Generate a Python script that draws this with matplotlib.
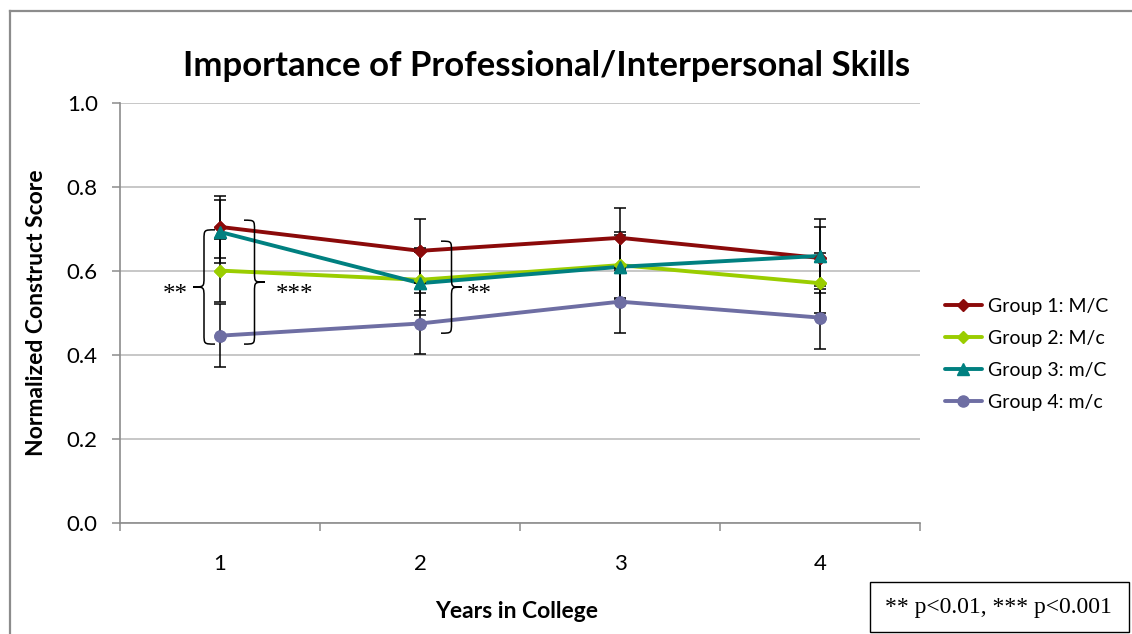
import matplotlib
matplotlib.use("Agg")
import matplotlib.pyplot as plt
from matplotlib.path import Path
from matplotlib.patches import PathPatch, Rectangle
from matplotlib.lines import Line2D

# ---- data -------------------------------------------------------------
years = [1, 2, 3, 4]
year_labels = ["1", "2", "3", "4"]
group_names = ["Group 1: M/C", "Group 2: M/c", "Group 3: m/C", "Group 4: m/c"]

g1_mean = [0.705, 0.648, 0.679, 0.631]
g2_mean = [0.601, 0.579, 0.614, 0.571]
g3_mean = [0.693, 0.571, 0.610, 0.636]
g4_mean = [0.446, 0.475, 0.527, 0.489]

g1_err = [0.074, 0.076, 0.072, 0.074]
g2_err = [0.075, 0.075, 0.080, 0.072]
g3_err = [0.075, 0.075, 0.075, 0.088]
g4_err = [0.075, 0.073, 0.075, 0.075]

y_ticks = [0.0, 0.2, 0.4, 0.6, 0.8, 1.0]
y_tick_labels = ["0.0", "0.2", "0.4", "0.6", "0.8", "1.0"]

# ---- styles -----------------------------------------------------------
SANS = ["Lato", "DejaVu Sans"]
SERIF = ["Liberation Serif", "DejaVu Serif"]
colors = ["#8B0A0A", "#9ACD00", "#008080", "#6E6EA3"]
markers = ["D", "D", "^", "o"]
msizes = [6.5, 6.5, 8, 8]
AXIS_GRAY = "#8C8C8C"
GRID_GRAY = "#BEBEBE"

W, H = 1132, 634
fig = plt.figure(figsize=(W / 100, H / 100), dpi=100)
fig.patch.set_facecolor("white")

# axes placed by pixel edges of the plot area
x0, x1, ytop, ybot = 120, 920, 103, 523
ax = fig.add_axes([x0 / W, 1 - ybot / H, (x1 - x0) / W, (ybot - ytop) / H])

means = [g1_mean, g2_mean, g3_mean, g4_mean]
errs = [g1_err, g2_err, g3_err, g4_err]

for m, c, mk, ms, name in zip(means, colors, markers, msizes, group_names):
    ax.plot(years, m, color=c, lw=2.8, marker=mk, ms=ms, mec=c, mfc=c,
            label=name, zorder=3, solid_capstyle="round")
for m, e in zip(means, errs):
    ax.errorbar(years, m, yerr=e, fmt="none", ecolor="black", elinewidth=1.1,
                capsize=4.5, capthick=1.1, zorder=4)
for m, c, mk, ms in zip(means, colors, markers, msizes):
    ax.plot(years, m, ls="none", marker=mk, ms=ms, mec=c, mfc=c, zorder=5)

ax.set_xlim(0.5, 4.5)
ax.set_ylim(0, 1.0)
ax.set_yticks(y_ticks)
ax.set_yticklabels(y_tick_labels, fontfamily=SANS, fontsize=16)
ax.set_xticks(years)
ax.set_xticklabels(year_labels, fontfamily=SANS, fontsize=16)
ax.set_xticks([0.5, 1.5, 2.5, 3.5, 4.5], minor=True)
ax.tick_params(axis="x", which="major", length=0, pad=22)
ax.tick_params(axis="x", which="minor", length=6, width=1.1, color=AXIS_GRAY, direction="out")
ax.tick_params(axis="y", length=6, width=1.1, color=AXIS_GRAY, direction="out", pad=10)

ax.grid(axis="y", color=GRID_GRAY, lw=1.2, zorder=0)
ax.set_axisbelow(True)
for s in ["top", "right"]:
    ax.spines[s].set_visible(False)
for s in ["left", "bottom"]:
    ax.spines[s].set_color(AXIS_GRAY)
    ax.spines[s].set_linewidth(1.2)

ax.set_ylabel("Normalized Construct Score", fontfamily=SANS, fontweight="bold",
              fontsize=16.5, va="center")
ax.yaxis.set_label_coords((37 - x0) / (x1 - x0), 0.5)
ax.set_xlabel("Years in College", fontfamily=SANS, fontweight="bold",
              fontsize=16.5, va="center")
ax.xaxis.set_label_coords((517 - x0) / (x1 - x0), -(612 - ybot) / (ybot - ytop))

fig.text(546.5 / W, 1 - 76 / H, "Importance of Professional/Interpersonal Skills",
         fontfamily=SANS, fontweight="bold", fontsize=25, ha="center", va="baseline")


def brace(ax, x_tip, x_back, y_top, y_bot, r=0.024):
    """Curly brace whose point is at x_tip, arms ending at x_back."""
    ym = (y_top + y_bot) / 2
    xm = (x_tip + x_back) / 2
    verts = [
        (x_back, y_top), (xm, y_top), (xm, y_top), (xm, y_top - r),
        (xm, ym + r),
        (xm, ym), (xm, ym), (x_tip, ym),
        (xm, ym), (xm, ym), (xm, ym - r),
        (xm, y_bot + r),
        (xm, y_bot), (xm, y_bot), (x_back, y_bot),
    ]
    codes = [Path.MOVETO, Path.CURVE4, Path.CURVE4, Path.CURVE4,
             Path.LINETO,
             Path.CURVE4, Path.CURVE4, Path.CURVE4,
             Path.CURVE4, Path.CURVE4, Path.CURVE4,
             Path.LINETO,
             Path.CURVE4, Path.CURVE4, Path.CURVE4]
    ax.add_patch(PathPatch(Path(verts, codes), fill=False, ec="black", lw=1.1,
                           zorder=6, clip_on=False))


# significance braces: year 1 (group 3 vs 4, group 1 vs 4) and year 2 (group 1 vs 4)
brace(ax, 0.865, 0.975, 0.698, 0.426)
ax.text(0.775, 0.543, "**", fontfamily=SERIF, fontsize=18, ha="center", va="center")
brace(ax, 1.225, 1.12, 0.721, 0.426)
ax.text(1.375, 0.543, "***", fontfamily=SERIF, fontsize=18, ha="center", va="center")
brace(ax, 2.21, 2.105, 0.671, 0.452)
ax.text(2.295, 0.543, "**", fontfamily=SERIF, fontsize=18, ha="center", va="center")

leg = fig.legend(loc="center left", bbox_to_anchor=(945 / W, 1 - 354.5 / H),
                 frameon=False, prop={"family": SANS, "size": 14},
                 handlelength=1.9, handletextpad=0.3, labelspacing=0.78,
                 borderpad=0, borderaxespad=0)

# chart frame: top and left edges (the rest runs off the canvas)
fx, fy = 9.5 / W, 1 - 10.5 / H
fig.add_artist(Line2D([fx, 1.0], [fy, fy], transform=fig.transFigure,
                      color=AXIS_GRAY, lw=1.6))
fig.add_artist(Line2D([fx, fx], [0.0, fy], transform=fig.transFigure,
                      color=AXIS_GRAY, lw=1.6))

# significance key
fig.add_artist(Rectangle((869.5 / W, 1 - 632 / H), 259 / W, 50 / H,
                         transform=fig.transFigure, fill=False, ec="black", lw=1.0))
fig.text(998.5 / W, 1 - 607 / H, "** p<0.01, *** p<0.001", fontfamily=SERIF,
         fontsize=17, ha="center", va="center")

fig.savefig("out.png", dpi=100, facecolor="white")
